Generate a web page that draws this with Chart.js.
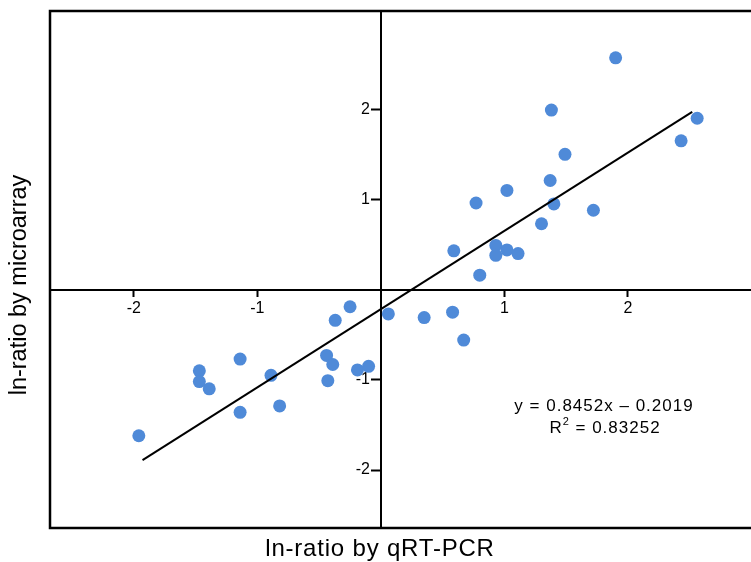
<!DOCTYPE html>
<html>
<head>
<meta charset="utf-8">
<script src="https://cdn.jsdelivr.net/npm/chart.js@4/dist/chart.umd.min.js"></script>
<style>
  html, body { margin: 0; padding: 0; background: #fff; overflow: hidden; }
  #wrap { width: 751px; height: 562px; position: relative; overflow: hidden; }
  canvas { display: block; }
</style>
</head>
<body>
<div id="wrap"><canvas id="c" width="760" height="562"></canvas></div>
<script>
// ln-ratio by qRT-PCR (x) and ln-ratio by microarray (y)
const qrtpcr = [1.90, 1.38, 2.56, 2.43, 1.49, 1.37, 1.02, 0.77, 1.40, 1.72, 1.30, 0.59, 0.93, 1.02, 0.93, 1.11, 0.80,
                -0.25, -0.37, -0.44, -0.39, -0.19, -0.10, -0.43, -1.14, -1.47, -1.47, -1.39, -0.89, -0.82, -1.14, -1.96,
                0.06, 0.35, 0.58, 0.67];
const microarray = [2.57, 1.99, 1.90, 1.65, 1.50, 1.21, 1.10, 0.96, 0.95, 0.88, 0.73, 0.43, 0.49, 0.44, 0.38, 0.40, 0.16,
                -0.19, -0.34, -0.73, -0.83, -0.89, -0.85, -1.01, -0.77, -0.90, -1.02, -1.10, -0.95, -1.29, -1.36, -1.62,
                -0.27, -0.31, -0.25, -0.56];
// trend line end points (as drawn)
const trendX = [-1.93, 2.52];
const trendY = [-1.89, 1.97];
const xTicks = [-2, -1, 1, 2];
const yTicks = [-2, -1, 1, 2];
const equationText = 'y = 0.8452x \u2013 0.2019';
const r2Label = 'R';
const r2Value = ' = 0.83252';
const xTitle = 'ln-ratio by qRT-PCR';
const yTitle = 'ln-ratio by microarray';

const FONT = "'Liberation Sans', Arial, Helvetica, sans-serif";

const points = qrtpcr.map((x, i) => ({ x: x, y: microarray[i] }));
const trend = trendX.map((x, i) => ({ x: x, y: trendY[i] }));

const framePlugin = {
  id: 'frame',
  beforeDraw(chart) {
    const { ctx, chartArea: a } = chart;
    // move the y tick labels to the left of the tick marks
    const items = chart.scales.y.getLabelItems();
    if (!items._shifted) {
      items.forEach(it => { it.options.translation[0] -= 11; });
      items._shifted = true;
    }
    ctx.save();
    ctx.strokeStyle = '#000';
    ctx.lineWidth = 2.5;
    ctx.beginPath();
    ctx.moveTo(chart.width + 2, a.top);
    ctx.lineTo(a.left, a.top);
    ctx.lineTo(a.left, a.bottom);
    ctx.lineTo(chart.width + 2, a.bottom);
    ctx.stroke();
    ctx.restore();
  },
  afterDraw(chart) {
    const { ctx } = chart;
    ctx.save();
    ctx.fillStyle = '#000';
    ctx.textBaseline = 'middle';
    // axis titles
    ctx.font = '24px ' + FONT;
    ctx.textAlign = 'center';
    ctx.letterSpacing = '0.8px';
    ctx.fillText(xTitle, 380, 549);
    ctx.letterSpacing = '0px';
    ctx.save();
    ctx.translate(20, 285);
    ctx.rotate(-Math.PI / 2);
    ctx.font = '23.5px ' + FONT;
    ctx.fillText(yTitle, 0, 0);
    ctx.restore();
    // equation annotation
    ctx.letterSpacing = '1px';
    ctx.font = '17px ' + FONT;
    ctx.textAlign = 'center';
    ctx.fillText(equationText, 604, 406);
    // R² line
    ctx.textAlign = 'left';
    const w1 = ctx.measureText(r2Label).width;
    ctx.font = '11px ' + FONT;
    const w2 = ctx.measureText('2').width;
    ctx.font = '17px ' + FONT;
    const w3 = ctx.measureText(r2Value).width;
    const total = w1 + w2 + w3;
    const x0 = 605 - total / 2;
    ctx.fillText(r2Label, x0, 428);
    ctx.font = '11px ' + FONT;
    ctx.fillText('2', x0 + w1, 422);
    ctx.font = '17px ' + FONT;
    ctx.fillText(r2Value, x0 + w1 + w2, 428);
    ctx.restore();
  }
};

new Chart(document.getElementById('c'), {
  type: 'scatter',
  data: {
    datasets: [
      {
        type: 'line',
        data: trend,
        borderColor: '#000',
        borderWidth: 2,
        pointRadius: 0,
        fill: false,
        tension: 0
      },
      {
        data: points,
        backgroundColor: '#4F8AD8',
        borderWidth: 0,
        pointRadius: 6.5,
        pointHoverRadius: 6.5
      }
    ]
  },
  options: {
    responsive: false,
    animation: false,
    devicePixelRatio: 1,
    layout: { padding: { left: 50, top: 11, right: 0, bottom: 34 } },
    plugins: { legend: { display: false }, tooltip: { enabled: false } },
    scales: {
      x: {
        type: 'linear',
        min: -2.679,
        max: 3.016,
        position: { y: 0 },
        afterBuildTicks: s => { s.ticks = xTicks.map(v => ({ value: v })); },
        border: { display: true, color: '#000', width: 2 },
        grid: { drawOnChartArea: false, drawTicks: true, tickLength: 6, tickColor: '#000', tickWidth: 2 },
        ticks: { color: '#000', font: { family: FONT, size: 16 }, padding: 3, maxRotation: 0 }
      },
      y: {
        type: 'linear',
        min: -2.643,
        max: 3.089,
        position: { x: 0 },
        afterBuildTicks: s => { s.ticks = yTicks.map(v => ({ value: v })); },
        border: { display: true, color: '#000', width: 2 },
        grid: { drawOnChartArea: false, drawTicks: true, tickLength: 9, tickColor: '#000', tickWidth: 2 },
        ticks: { color: '#000', font: { family: FONT, size: 16 }, padding: 1 }
      }
    }
  },
  plugins: [framePlugin]
});
</script>
</body>
</html>
